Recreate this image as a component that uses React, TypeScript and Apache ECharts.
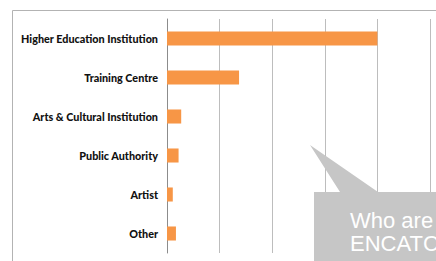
import React, { useEffect, useRef } from "react";
import * as echarts from "echarts";

const categories = [
  "Higher Education Institution",
  "Training Centre",
  "Arts & Cultural Institution",
  "Public Authority",
  "Artist",
  "Other",
];
const values = [40, 13.7, 2.7, 2.2, 1.1, 1.7];
const calloutLines = ["Who are", "ENCATC"];

export default function App() {
  const ref = useRef<HTMLDivElement>(null);
  useEffect(() => {
    document.body.style.margin = "0";
    const chart = echarts.init(ref.current!, null, { renderer: "svg" });
    chart.setOption({
      animation: false,
      backgroundColor: "#ffffff",
      grid: { left: 167, top: 19, right: 6, bottom: 8, containLabel: false },
      xAxis: {
        type: "value",
        min: 0,
        max: 50,
        interval: 10,
        axisLabel: { show: false },
        axisLine: { show: false },
        axisTick: { show: false },
        splitLine: { lineStyle: { color: "#bdbdbd", width: 1 } },
      },
      yAxis: {
        type: "category",
        data: categories,
        inverse: true,
        axisLine: { lineStyle: { color: "#8c8c8c" } },
        axisTick: { length: 4, lineStyle: { color: "#8c8c8c" } },
        axisLabel: {
          margin: 9,
          fontFamily: "Lato",
          fontWeight: 900,
          fontSize: 10.8,
          color: "#111111",
        },
      },
      series: [
        {
          type: "bar",
          data: values,
          barWidth: "36%",
          itemStyle: { color: "#f79646" },
        },
      ],
      graphic: [
        {
          type: "rect",
          shape: { x: 12.5, y: 10.5, width: 600, height: 400 },
          style: { fill: "none", stroke: "#b3b3b3", lineWidth: 1 },
          silent: true,
          z: 100,
        },
        {
          type: "polygon",
          shape: {
            points: [
              [314, 192],
              [340, 192],
              [310, 145],
              [378, 192],
              [440, 192],
              [440, 265],
              [314, 265],
            ],
          },
          style: { fill: "#c6c6c6" },
          z: 101,
        },
        {
          type: "text",
          x: 350,
          y: 209,
          style: {
            text: calloutLines.join("\n"),
            fill: "#ffffff",
            font: "22px 'Liberation Sans', Arial, sans-serif",
            lineHeight: 23,
          },
          z: 102,
        },
      ],
    });
    return () => chart.dispose();
  }, []);
  return (
    <div
      ref={ref}
      style={{ position: "absolute", left: 0, top: 0, width: 436, height: 261 }}
    />
  );
}
